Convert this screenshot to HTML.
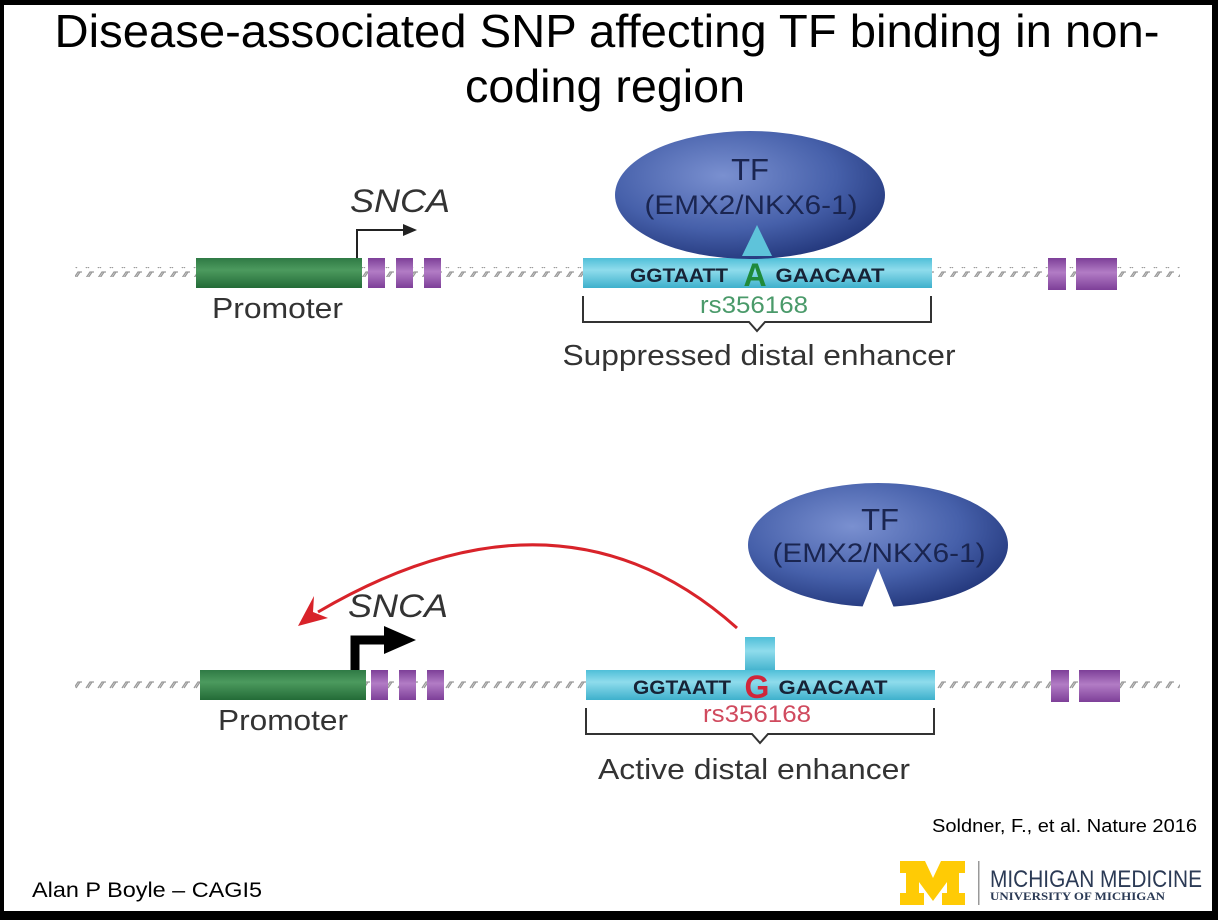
<!DOCTYPE html>
<html><head><meta charset="utf-8"><style>
html,body{margin:0;padding:0;background:#000;}
svg{display:block;font-family:"Liberation Sans",sans-serif;}
</style></head><body>
<svg width="1218" height="920" viewBox="0 0 1218 920" xmlns="http://www.w3.org/2000/svg">
<defs>
<radialGradient id="tf" cx="0.4" cy="0.35" r="0.7">
<stop offset="0" stop-color="#7a90d0"/><stop offset="0.6" stop-color="#4660aa"/><stop offset="1" stop-color="#22367a"/>
</radialGradient>
<linearGradient id="gr" x1="0" y1="0" x2="0" y2="1"><stop offset="0" stop-color="#2f7a45"/><stop offset="0.4" stop-color="#4c9a5e"/><stop offset="1" stop-color="#236b37"/></linearGradient>
<linearGradient id="pu" x1="0" y1="0" x2="0" y2="1"><stop offset="0" stop-color="#7d3f98"/><stop offset="0.45" stop-color="#b27cc5"/><stop offset="1" stop-color="#7d3f98"/></linearGradient>
<linearGradient id="cy" x1="0" y1="0" x2="0" y2="1"><stop offset="0" stop-color="#4fbfd8"/><stop offset="0.4" stop-color="#8fdcec"/><stop offset="1" stop-color="#3eb0cc"/></linearGradient>
<pattern id="dna" width="12" height="10" patternUnits="userSpaceOnUse"><path d="M2 8 L6 2 L10 2 M4 8 L8 2" stroke="#999" stroke-width="1.3" fill="none"/></pattern>
</defs>
<rect x="4" y="5" width="1208" height="906" fill="#fff"/>
<text x="607" y="47" font-size="46" text-anchor="middle" fill="#000" textLength="1105" lengthAdjust="spacingAndGlyphs">Disease-associated SNP affecting TF binding in non-</text>
<text x="605" y="102" font-size="46" text-anchor="middle" fill="#000" textLength="280" lengthAdjust="spacingAndGlyphs">coding region</text>

<!-- top row -->
<rect x="75" y="267" width="1105" height="10" fill="url(#dna)"/>
<rect x="196" y="258" width="166" height="30" fill="url(#gr)"/>
<rect x="368" y="258" width="17" height="30" fill="url(#pu)"/>
<rect x="396" y="258" width="17" height="30" fill="url(#pu)"/>
<rect x="424" y="258" width="17" height="30" fill="url(#pu)"/>
<rect x="1048" y="258" width="18" height="32" fill="url(#pu)"/>
<rect x="1076" y="258" width="41" height="32" fill="url(#pu)"/>
<path d="M357 258 V230 H405" stroke="#222" stroke-width="2" fill="none"/>
<path d="M417 230 L403 224 L403 236 Z" fill="#222"/>
<text x="350" y="212" font-size="32" font-style="italic" fill="#333" textLength="100" lengthAdjust="spacingAndGlyphs">SNCA</text>
<text x="212" y="318" font-size="29" fill="#333" textLength="131" lengthAdjust="spacingAndGlyphs">Promoter</text>
<rect x="583" y="258" width="349" height="30" fill="url(#cy)"/>
<ellipse cx="750" cy="195" rx="135" ry="64" fill="url(#tf)"/>
<path d="M742 256 L757 225 L772 256 Z" fill="#5ec3da"/>
<text x="750" y="180" font-size="31" text-anchor="middle" fill="#1a2550">TF</text>
<text x="751" y="214" font-size="27" text-anchor="middle" fill="#1a2550" textLength="213" lengthAdjust="spacingAndGlyphs">(EMX2/NKX6-1)</text>
<text x="679" y="282" font-size="19" font-weight="bold" text-anchor="middle" fill="#172336" textLength="98" lengthAdjust="spacingAndGlyphs">GGTAATT</text>
<text x="755" y="286" font-size="32" font-weight="bold" text-anchor="middle" fill="#1f8a3b">A</text>
<text x="830" y="282" font-size="19" font-weight="bold" text-anchor="middle" fill="#172336" textLength="109" lengthAdjust="spacingAndGlyphs">GAACAAT</text>
<text x="754" y="313" font-size="24" text-anchor="middle" fill="#4a9a6a" textLength="108" lengthAdjust="spacingAndGlyphs">rs356168</text>
<path d="M583 296 V322 H749 L757 331 L765 322 H931 V296" stroke="#333" stroke-width="2" fill="none"/>
<text x="759" y="365" font-size="29" text-anchor="middle" fill="#333" textLength="393" lengthAdjust="spacingAndGlyphs">Suppressed distal enhancer</text>

<!-- bottom row -->
<rect x="75" y="680" width="1105" height="10" fill="url(#dna)"/>
<rect x="200" y="670" width="166" height="30" fill="url(#gr)"/>
<rect x="371" y="670" width="17" height="30" fill="url(#pu)"/>
<rect x="399" y="670" width="17" height="30" fill="url(#pu)"/>
<rect x="427" y="670" width="17" height="30" fill="url(#pu)"/>
<rect x="1051" y="670" width="18" height="32" fill="url(#pu)"/>
<rect x="1079" y="670" width="41" height="32" fill="url(#pu)"/>
<path d="M355 670 V640 H388" stroke="#000" stroke-width="9" fill="none"/>
<path d="M416 640 L384 626 L384 654 Z" fill="#000"/>
<text x="348" y="617" font-size="32" font-style="italic" fill="#333" textLength="100" lengthAdjust="spacingAndGlyphs">SNCA</text>
<text x="218" y="730" font-size="29" fill="#333" textLength="130" lengthAdjust="spacingAndGlyphs">Promoter</text>
<rect x="745" y="637" width="30" height="35" fill="url(#cy)"/>
<rect x="586" y="670" width="349" height="30" fill="url(#cy)"/>
<ellipse cx="878" cy="545" rx="130" ry="62" fill="url(#tf)"/>
<path d="M862 608 L878 568 L894 608 Z" fill="#fff"/>
<text x="880" y="530" font-size="31" text-anchor="middle" fill="#1a2550">TF</text>
<text x="879" y="562" font-size="27" text-anchor="middle" fill="#1a2550" textLength="213" lengthAdjust="spacingAndGlyphs">(EMX2/NKX6-1)</text>
<path d="M737 628 Q560 470 318 612" stroke="#d8232a" stroke-width="3" fill="none"/>
<path d="M298 626 L314 596 L313 612 L328 618 Z" fill="#d8232a"/>
<text x="682" y="694" font-size="19" font-weight="bold" text-anchor="middle" fill="#172336" textLength="98" lengthAdjust="spacingAndGlyphs">GGTAATT</text>
<text x="757" y="698" font-size="32" font-weight="bold" text-anchor="middle" fill="#d0263a">G</text>
<text x="833" y="694" font-size="19" font-weight="bold" text-anchor="middle" fill="#172336" textLength="109" lengthAdjust="spacingAndGlyphs">GAACAAT</text>
<text x="757" y="722" font-size="24" text-anchor="middle" fill="#d04a5e" textLength="108" lengthAdjust="spacingAndGlyphs">rs356168</text>
<path d="M586 708 V734 H752 L760 743 L768 734 H934 V708" stroke="#333" stroke-width="2" fill="none"/>
<text x="754" y="779" font-size="29" text-anchor="middle" fill="#333" textLength="312" lengthAdjust="spacingAndGlyphs">Active distal enhancer</text>

<!-- footer -->
<text x="1197" y="832" font-size="18" text-anchor="end" fill="#000" textLength="265" lengthAdjust="spacingAndGlyphs">Soldner, F., et al. Nature 2016</text>
<text x="32" y="897" font-size="21" fill="#000" textLength="230" lengthAdjust="spacingAndGlyphs">Alan P Boyle – CAGI5</text>
<path d="M900 861 H925 L933 878 L941 861 H965 V873 H959 V893 H965 V905 H942 V893 H947 V882 L933 901 L919 882 V893 H924 V905 H900 V893 H906 V873 H900 Z" fill="#ffcb05"/>
<rect x="978" y="861" width="1.5" height="44" fill="#999"/>
<text x="990" y="887" font-size="24" fill="#2b3a55" textLength="212" lengthAdjust="spacingAndGlyphs">MICHIGAN MEDICINE</text>
<text x="990" y="900" font-size="12" font-weight="bold" font-family="Liberation Serif, serif" fill="#2b3a55" textLength="175" lengthAdjust="spacingAndGlyphs">UNIVERSITY OF MICHIGAN</text>
</svg>
</body></html>
